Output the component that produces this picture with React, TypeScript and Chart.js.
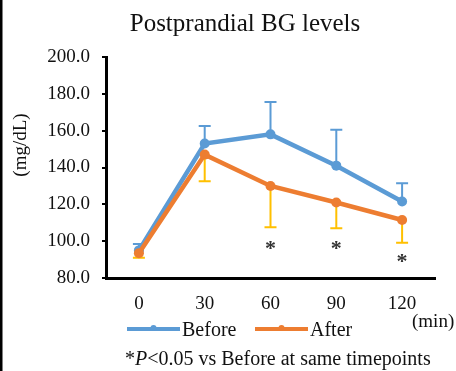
import React, { useEffect, useRef } from "react";
import { Chart, registerables } from "chart.js";

Chart.register(...registerables);

const timepoints = ["0", "30", "60", "90", "120"];
const beforeMean = [95, 153, 158, 141, 121.5];
const beforeSD = [3.5, 9.5, 17.5, 19.5, 10];
const afterMean = [93.5, 147, 130, 121, 111.5];
const afterSD = [2.5, 14.5, 22.5, 14, 12.3];
const asteriskY: (number | null)[] = [null, null, 98.5, 98.5, 91.5];

const BLUE = "#5B9BD5";
const ORANGE = "#ED7D31";
const YELLOW = "#FFC000";
const SERIF = "'Liberation Serif', 'Times New Roman', serif";

const extras = {
  id: "extras",
  beforeDatasetsDraw(chart: any) {
    const ctx = chart.ctx;
    const xs = chart.scales.x;
    const ys = chart.scales.y;
    const drawBars = (means: number[], sds: number[], dir: number, color: string) => {
      ctx.save();
      ctx.strokeStyle = color;
      ctx.lineWidth = 2;
      means.forEach((m, i) => {
        const px = xs.getPixelForValue(i);
        const p0 = ys.getPixelForValue(m);
        const p1 = ys.getPixelForValue(m + dir * sds[i]);
        ctx.beginPath();
        ctx.moveTo(px, p0);
        ctx.lineTo(px, p1);
        ctx.moveTo(px - 6, p1);
        ctx.lineTo(px + 6, p1);
        ctx.stroke();
      });
      ctx.restore();
    };
    drawBars(beforeMean, beforeSD, 1, BLUE);
    drawBars(afterMean, afterSD, -1, YELLOW);
  },
  afterDraw(chart: any) {
    const ctx = chart.ctx;
    const xs = chart.scales.x;
    const ys = chart.scales.y;
    ctx.save();
    // left strip
    ctx.fillStyle = "#000";
    ctx.fillRect(0, 0, 2.5, 371);

    // title
    ctx.fillStyle = "#111";
    ctx.font = `25px ${SERIF}`;
    ctx.textAlign = "center";
    ctx.textBaseline = "alphabetic";
    ctx.fillText("Postprandial BG levels", 245, 31);

    // y title
    ctx.save();
    ctx.translate(26, 145);
    ctx.rotate(-Math.PI / 2);
    ctx.font = `19px ${SERIF}`;
    ctx.textAlign = "center";
    ctx.fillText("(mg/dL)", 0, 0);
    ctx.restore();

    // asterisks
    ctx.fillStyle = "#333";
    ctx.font = `bold 22px ${SERIF}`;
    ctx.textAlign = "center";
    asteriskY.forEach((v, i) => {
      if (v == null) return;
      const px = xs.getPixelForValue(i);
      const py = ys.getPixelForValue(v);
      ctx.fillText("*", px, py + 11);
    });

    // (min)
    ctx.fillStyle = "#111";
    ctx.font = `19px ${SERIF}`;
    ctx.textAlign = "left";
    ctx.fillText("(min)", 412, 327);

    // legend
    const legendItem = (x0: number, x1: number, color: string, label: string) => {
      ctx.strokeStyle = color;
      ctx.lineWidth = 4;
      ctx.beginPath();
      ctx.moveTo(x0, 329);
      ctx.lineTo(x1, 329);
      ctx.stroke();
      ctx.fillStyle = color;
      ctx.beginPath();
      ctx.arc((x0 + x1) / 2, 328, 3, 0, Math.PI * 2);
      ctx.fill();
      ctx.fillStyle = "#111";
      ctx.font = `20px ${SERIF}`;
      ctx.textAlign = "left";
      ctx.fillText(label, x1 + 2, 336);
    };
    legendItem(127, 180, BLUE, "Before");
    legendItem(255, 308, ORANGE, "After");

    // footnote
    ctx.fillStyle = "#111";
    ctx.textAlign = "left";
    let fx = 125;
    const parts: [string, string][] = [
      ["*", `20px ${SERIF}`],
      ["P", `italic 20px ${SERIF}`],
      ["<0.05 vs Before at same timepoints", `20px ${SERIF}`],
    ];
    parts.forEach(([t, f]) => {
      ctx.font = f;
      ctx.fillText(t, fx, 365);
      fx += ctx.measureText(t).width;
    });
    ctx.restore();
  },
};

export default function App() {
  const ref = useRef<HTMLCanvasElement | null>(null);
  useEffect(() => {
    document.body.style.margin = "0";
    const canvas = ref.current;
    if (!canvas) return;
    const chart = new Chart(canvas, {
      type: "line",
      data: {
        labels: timepoints,
        datasets: [
          {
            label: "Before",
            data: beforeMean,
            borderColor: BLUE,
            backgroundColor: BLUE,
            borderWidth: 4.5,
            pointRadius: 5,
            pointBorderWidth: 0,
            pointBackgroundColor: BLUE,
            tension: 0,
            order: 1,
          },
          {
            label: "After",
            data: afterMean,
            borderColor: ORANGE,
            backgroundColor: ORANGE,
            borderWidth: 4.5,
            pointRadius: 5,
            pointBorderWidth: 0,
            pointBackgroundColor: ORANGE,
            tension: 0,
            order: 0,
          },
        ],
      },
      options: {
        responsive: false,
        animation: false,
        layout: { padding: { left: 0, top: 57, right: 21, bottom: 0 } },
        plugins: {
          legend: { display: false },
          title: { display: false },
          tooltip: { enabled: false },
        },
        scales: {
          x: {
            type: "category",
            offset: true,
            grid: { display: false, drawTicks: false },
            border: { display: true, color: "#000", width: 3 },
            ticks: {
              color: "#111",
              font: { family: SERIF, size: 19 },
              padding: 15,
              maxRotation: 0,
            },
            afterFit: (s: any) => {
              s.height = 93;
            },
          },
          y: {
            min: 80,
            max: 200,
            grid: {
              display: true,
              drawOnChartArea: false,
              drawTicks: true,
              tickLength: 4,
              color: "#000",
              lineWidth: 2,
            },
            border: { display: true, color: "#000", width: 3 },
            ticks: {
              stepSize: 20,
              color: "#111",
              font: { family: SERIF, size: 19 },
              padding: 12,
              callback: (v: any) => Number(v).toFixed(1),
            },
            afterFit: (s: any) => {
              s.width = 106;
            },
          },
        },
      },
      plugins: [extras],
    } as any);
    return () => chart.destroy();
  }, []);
  return <canvas ref={ref} width={456} height={371} style={{ display: "block" }} />;
}
